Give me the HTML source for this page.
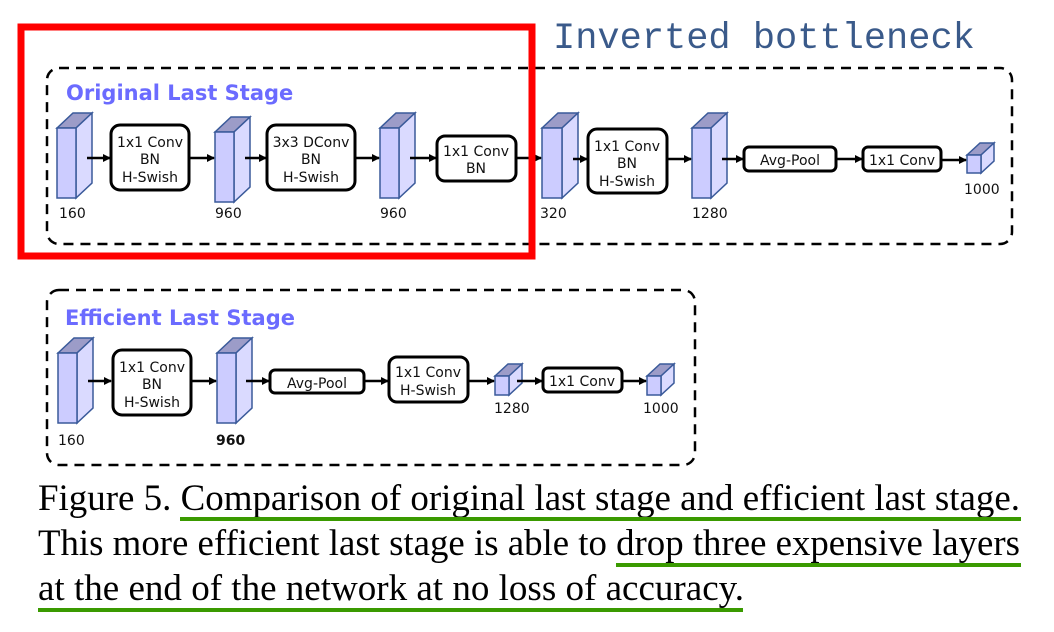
<!DOCTYPE html>
<html><head><meta charset="utf-8"><style>
html,body{margin:0;padding:0;background:#fff;width:1054px;height:632px;overflow:hidden}
svg{display:block}
.bx{fill:#fff;stroke:#000;stroke-width:3}
.t{font-family:"DejaVu Sans",sans-serif;font-size:14px;fill:#111;text-anchor:middle}
.l{font-family:"DejaVu Sans",sans-serif;font-size:14px;fill:#111}
.ti{font-family:"DejaVu Sans",sans-serif;font-weight:bold;font-size:21px;fill:#6b6bff}
.fr{fill:#ccccff;stroke:#3a5a9a;stroke-width:1.5}
.tp{fill:#9c9cc8;stroke:#3a5a9a;stroke-width:1.5}
.sd{fill:#dadaff;stroke:#3a5a9a;stroke-width:1.5}
.cap{font-family:"Liberation Serif",serif;font-size:37px;fill:#000}
</style></head><body>
<svg width="1054" height="632" viewBox="0 0 1054 632">
<defs><marker id="a" markerWidth="8" markerHeight="8" refX="7" refY="4" orient="auto" markerUnits="userSpaceOnUse"><path d="M0,0 L8,4 L0,8z" fill="#000"/></marker></defs>
<text x="553" y="48" font-family="Liberation Mono,monospace" font-size="37" fill="#3a5a8a">Inverted bottleneck</text>
<rect x="47" y="68" width="965" height="176" rx="12" fill="none" stroke="#000" stroke-width="2.5" stroke-dasharray="10,7"/>
<text x="66" y="100" class="ti">Original Last Stage</text>
<g id="cubes">
<!-- cube helper drawn manually -->
<polygon class="tp" points="57,128 73,113 92,113 76,128"/><polygon class="sd" points="76,128 92,113 92,183 76,198"/><rect class="fr" x="57" y="128" width="19" height="70"/>
<polygon class="tp" points="215,132 231,117 250,117 234,132"/><polygon class="sd" points="234,132 250,117 250,187 234,202"/><rect class="fr" x="215" y="132" width="19" height="70"/>
<polygon class="tp" points="380,128 396,113 415,113 399,128"/><polygon class="sd" points="399,128 415,113 415,183 399,198"/><rect class="fr" x="380" y="128" width="19" height="70"/>
<polygon class="tp" points="542,128 558,113 578,113 562,128"/><polygon class="sd" points="562,128 578,113 578,183 562,198"/><rect class="fr" x="542" y="128" width="20" height="70"/>
<polygon class="tp" points="692,128 708,113 727,113 711,128"/><polygon class="sd" points="711,128 727,113 727,183 711,198"/><rect class="fr" x="692" y="128" width="19" height="70"/>
<polygon class="tp" points="967,155 980,143 994,143 981,155"/><polygon class="sd" points="981,155 994,143 994,161 981,173"/><rect class="fr" x="967" y="155" width="14" height="18"/>
</g>
<g stroke="#000" stroke-width="2.5" marker-end="url(#a)">
<line x1="87" y1="158" x2="110" y2="158"/><line x1="189" y1="158" x2="214" y2="158"/>
<line x1="245" y1="158" x2="266" y2="158"/><line x1="355" y1="158" x2="379" y2="158"/>
<line x1="410" y1="158" x2="436" y2="158"/><line x1="516" y1="158" x2="541" y2="158"/>
<line x1="573" y1="159" x2="587" y2="159"/><line x1="667" y1="159" x2="691" y2="159"/>
<line x1="722" y1="159" x2="743" y2="159"/><line x1="836" y1="159" x2="862" y2="159"/>
<line x1="941" y1="160" x2="966" y2="160"/>
</g>
<rect class="bx" x="111" y="125" width="78" height="65" rx="9"/>
<text class="t" x="150" y="147">1x1 Conv</text><text class="t" x="150" y="164">BN</text><text class="t" x="150" y="182">H-Swish</text>
<rect class="bx" x="267" y="125" width="88" height="65" rx="9"/>
<text class="t" x="311" y="147">3x3 DConv</text><text class="t" x="311" y="164">BN</text><text class="t" x="311" y="182">H-Swish</text>
<rect class="bx" x="437" y="136" width="79" height="45" rx="8"/>
<text class="t" x="476" y="156">1x1 Conv</text><text class="t" x="476" y="173">BN</text>
<rect class="bx" x="588" y="129" width="79" height="64" rx="9"/>
<text class="t" x="627" y="151">1x1 Conv</text><text class="t" x="627" y="168">BN</text><text class="t" x="627" y="186">H-Swish</text>
<rect class="bx" x="744" y="147" width="92" height="24" rx="5"/><text class="t" x="790" y="165">Avg-Pool</text>
<rect class="bx" x="863" y="147" width="78" height="24" rx="5"/><text class="t" x="902" y="165">1x1 Conv</text>
<text class="l" x="59" y="218">160</text><text class="l" x="215" y="218">960</text><text class="l" x="380" y="218">960</text>
<text class="l" x="540" y="218">320</text><text class="l" x="692" y="218">1280</text><text class="l" x="964" y="194">1000</text>
<rect x="21" y="27" width="511" height="229" fill="none" stroke="#ff0000" stroke-width="7"/>

<rect x="47" y="290" width="648" height="175" rx="12" fill="none" stroke="#000" stroke-width="2.5" stroke-dasharray="10,7"/>
<text x="65" y="325" class="ti">Efficient Last Stage</text>
<polygon class="tp" points="58,353 74,338 93,338 77,353"/><polygon class="sd" points="77,353 93,338 93,408 77,423"/><rect class="fr" x="58" y="353" width="19" height="70"/>
<polygon class="tp" points="217,353 233,338 252,338 236,353"/><polygon class="sd" points="236,353 252,338 252,408 236,423"/><rect class="fr" x="217" y="353" width="19" height="70"/>
<polygon class="tp" points="495,376 508,364 522,364 509,376"/><polygon class="sd" points="509,376 522,364 522,383 509,395"/><rect class="fr" x="495" y="376" width="14" height="19"/>
<polygon class="tp" points="647,376 660,364 674,364 661,376"/><polygon class="sd" points="661,376 674,364 674,383 661,395"/><rect class="fr" x="647" y="376" width="14" height="19"/>
<g stroke="#000" stroke-width="2.5" marker-end="url(#a)">
<line x1="88" y1="381" x2="111" y2="381"/><line x1="191" y1="381" x2="216" y2="381"/>
<line x1="246" y1="381" x2="269" y2="381"/><line x1="364" y1="381" x2="388" y2="381"/>
<line x1="468" y1="381" x2="494" y2="381"/><line x1="517" y1="381" x2="542" y2="381"/>
<line x1="622" y1="381" x2="646" y2="381"/>
</g>
<rect class="bx" x="113" y="350" width="78" height="65" rx="9"/>
<text class="t" x="152" y="372">1x1 Conv</text><text class="t" x="152" y="389">BN</text><text class="t" x="152" y="407">H-Swish</text>
<rect class="bx" x="270" y="370" width="94" height="23" rx="5"/><text class="t" x="317" y="388">Avg-Pool</text>
<rect class="bx" x="389" y="357" width="79" height="45" rx="8"/>
<text class="t" x="428" y="377">1x1 Conv</text><text class="t" x="428" y="395">H-Swish</text>
<rect class="bx" x="543" y="368" width="79" height="24" rx="5"/><text class="t" x="582" y="386">1x1 Conv</text>
<text class="l" x="58" y="445">160</text><text class="l" x="216" y="445" font-weight="bold">960</text>
<text class="l" x="494" y="413">1280</text><text class="l" x="643" y="413">1000</text>

<text class="cap" x="38" y="510" textLength="982" lengthAdjust="spacingAndGlyphs">Figure 5. Comparison of original last stage and efficient last stage.</text>
<text class="cap" x="38" y="555" textLength="982" lengthAdjust="spacingAndGlyphs">This more efficient last stage is able to drop three expensive layers</text>
<text class="cap" x="38" y="600" textLength="706" lengthAdjust="spacingAndGlyphs">at the end of the network at no loss of accuracy.</text>
<g fill="#3a9a00"><rect x="180" y="517" width="841" height="4"/><rect x="616" y="563" width="405" height="4"/><rect x="38" y="608" width="705" height="4"/></g>
</svg>
</body></html>
